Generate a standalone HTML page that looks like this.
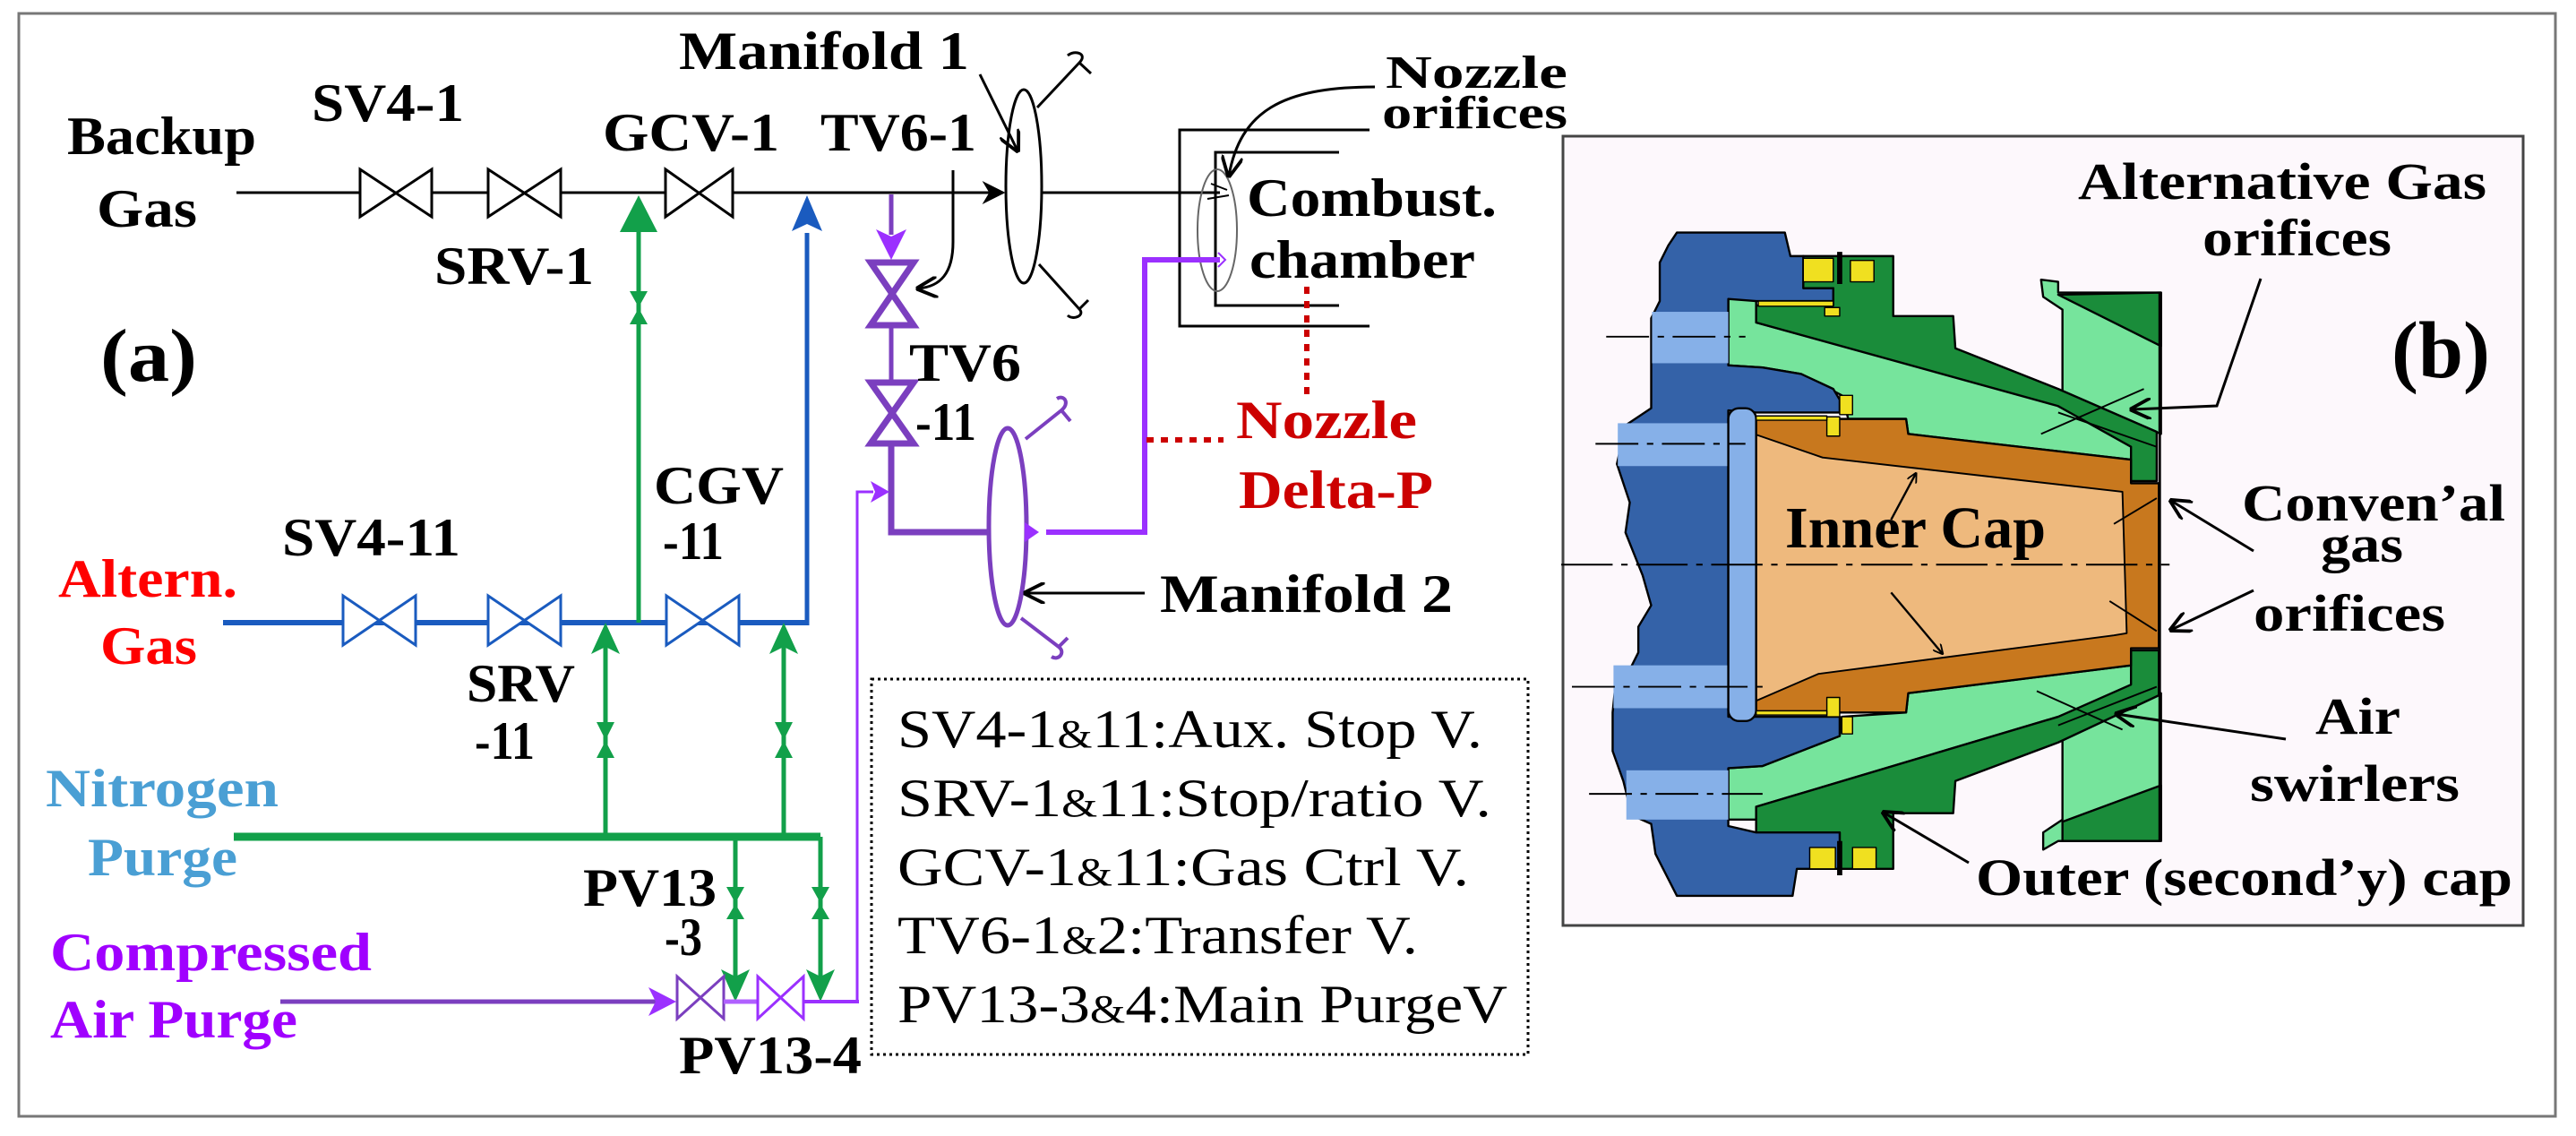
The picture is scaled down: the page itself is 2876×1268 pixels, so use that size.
<!DOCTYPE html>
<html><head><meta charset="utf-8"><style>
html,body{margin:0;padding:0;background:#fff}
svg{display:block}
svg text{font-family:"Liberation Serif","DejaVu Serif",serif;font-weight:bold}
</style></head><body>
<svg width="2876" height="1268" viewBox="0 0 2876 1268" xmlns="http://www.w3.org/2000/svg" font-family="Liberation Serif, DejaVu Serif, serif">
<defs>
<marker id="ak" viewBox="0 0 10 10" refX="9" refY="5" markerWidth="26" markerHeight="26" markerUnits="userSpaceOnUse" orient="auto"><path d="M0,0 L10,5 L0,10 L3,5 Z" fill="#000"/></marker>
<marker id="ak2" viewBox="0 0 10 10" refX="9" refY="5" markerWidth="24" markerHeight="24" markerUnits="userSpaceOnUse" orient="auto"><path d="M0,0 L10,5 L0,10" fill="none" stroke="#000" stroke-width="1.6"/></marker>
</defs>
<rect x="21" y="15" width="2832" height="1231" fill="#fff" stroke="#777" stroke-width="3"/>

<g stroke="#000" stroke-width="3" fill="#fff">
<line x1="264" y1="215" x2="1120" y2="215" marker-end="url(#ak)"/>
<line x1="1163" y1="215" x2="1362" y2="215"/>
<path d="M402,189 L482,242 L482,189 L402,242 Z"/>
<path d="M545,189 L626,242 L626,189 L545,242 Z"/>
<path d="M743,189 L818,242 L818,189 L743,242 Z"/>
<ellipse cx="1143" cy="208" rx="20" ry="108"/>
<path d="M1158,120 L1205,70 C1215,60 1200,55 1192,62 M1205,70 L1218,82" fill="none"/>
<path d="M1160,295 L1205,345 C1212,352 1198,358 1192,352 M1205,345 L1215,335" fill="none"/>
<line x1="1094" y1="83" x2="1136" y2="168" marker-end="url(#ak2)"/>
<path d="M1064,190 L1064,270 C1064,305 1050,320 1025,322" fill="none" marker-end="url(#ak2)"/>
<path d="M1529,145 L1317,145 L1317,364 L1529,364 M1495,170 L1357,170 L1357,341 L1495,341" fill="none"/>
<ellipse cx="1359" cy="257" rx="22" ry="68" stroke="#666" stroke-width="2" fill="none"/>
<path d="M1535,97 C1430,97 1385,125 1372,196" fill="none" marker-end="url(#ak2)"/>
<path d="M1352,205 L1370,212 M1348,222 L1372,218" fill="none" stroke-width="2"/>
</g>

<g stroke="#1a5bbf" fill="#fff">
<line x1="249" y1="695" x2="903" y2="695" stroke-width="6"/>
<line x1="901" y1="698" x2="901" y2="260" stroke-width="5"/>
<path d="M901,218 L884,258 L901,250 L918,258 Z" fill="#1a5bbf" stroke="none"/>
<path d="M383,665 L464,720 L464,665 L383,720 Z" stroke-width="3"/>
<path d="M545,665 L626,720 L626,665 L545,720 Z" stroke-width="3"/>
<path d="M744,665 L825,720 L825,665 L744,720 Z" stroke-width="3"/>
</g>

<g stroke="#12a04a" fill="#12a04a">
<line x1="713" y1="695" x2="713" y2="250" stroke-width="5"/>
<path d="M713,218 L692,259 L734,259 Z" stroke="none"/>
<path d="M703,325 L723,325 L713,343 Z M703,362 L723,362 L713,344 Z" stroke="none"/>
<line x1="261" y1="934" x2="916" y2="934" stroke-width="9"/>
<line x1="676" y1="934" x2="676" y2="720" stroke-width="5"/>
<line x1="875" y1="934" x2="875" y2="720" stroke-width="5"/>
<path d="M676,695 L660,730 L676,722 L692,730 Z M875,695 L859,730 L875,722 L891,730 Z" stroke="none"/>
<path d="M666,806 L686,806 L676,826 Z M666,846 L686,846 L676,827 Z M865,806 L885,806 L875,826 Z M865,846 L885,846 L875,827 Z" stroke="none"/>
<line x1="821" y1="934" x2="821" y2="1095" stroke-width="5"/>
<line x1="916" y1="934" x2="916" y2="1095" stroke-width="5"/>
<path d="M821,1118 L805,1082 L821,1090 L837,1082 Z M916,1118 L900,1082 L916,1090 L932,1082 Z" stroke="none"/>
<path d="M811,990 L831,990 L821,1008 Z M811,1026 L831,1026 L821,1009 Z M906,990 L926,990 L916,1008 Z M906,1026 L926,1026 L916,1009 Z" stroke="none"/>
</g>

<g fill="none">
<line x1="995" y1="217" x2="995" y2="262" stroke="#7b3fbf" stroke-width="5"/>
<path d="M995,290 L978,256 L995,264 L1012,256 Z" fill="#9b30ff"/>
<path d="M972,293 L1020,293 L972,363 L1020,363 Z" stroke="#7b3fbf" stroke-width="7" fill="#fff"/>
<line x1="995" y1="363" x2="995" y2="427" stroke="#7b3fbf" stroke-width="5"/>
<path d="M972,427 L1020,427 L972,495 L1020,495 Z" stroke="#7b3fbf" stroke-width="7" fill="#fff"/>
<path d="M995,495 L995,594 L1104,594" stroke="#7b3fbf" stroke-width="7"/>
<ellipse cx="1125" cy="588" rx="21" ry="110" stroke="#7b3fbf" stroke-width="5" fill="#fff"/>
<path d="M1160,594 L1144,583 L1144,605 Z" fill="#9b30ff"/>
<path d="M1168,594 L1278,594 L1278,290 L1362,290" stroke="#9b30ff" stroke-width="6"/>
<path d="M1360,282 L1368,290 L1360,298" stroke="#9b30ff" stroke-width="2"/>
<path d="M1145,490 L1185,458 C1195,450 1188,440 1180,445 M1185,458 L1195,470" stroke="#7b3fbf" stroke-width="4"/>
<path d="M1140,690 L1182,722 C1190,728 1182,738 1174,733 M1182,722 L1192,712" stroke="#7b3fbf" stroke-width="4"/>
<line x1="1278" y1="662" x2="1145" y2="662" stroke="#000" stroke-width="3" marker-end="url(#ak2)"/>
<path d="M957,1118 L957,549 L975,549" stroke="#9b30ff" stroke-width="3"/>
<path d="M993,549 L972,537 L977,549 L972,561 Z" fill="#9b30ff"/>
<line x1="313" y1="1118" x2="735" y2="1118" stroke="#7b3fbf" stroke-width="5"/>
<path d="M755,1118 L724,1102 L732,1118 L724,1134 Z" fill="#9b30ff"/>
<path d="M756,1090 L808,1137 L808,1090 L756,1137 Z" stroke="#7b3fbf" stroke-width="3" fill="#fff"/>
<line x1="808" y1="1118" x2="846" y2="1118" stroke="#b060ff" stroke-width="5"/>
<path d="M846,1090 L897,1137 L897,1090 L846,1137 Z" stroke="#9b30ff" stroke-width="3" fill="#fff"/>
<line x1="897" y1="1118" x2="959" y2="1118" stroke="#9b30ff" stroke-width="4"/>
</g>
<line x1="1459" y1="320" x2="1459" y2="440" stroke="#cc0000" stroke-width="6" stroke-dasharray="8,8"/>
<line x1="1280" y1="491" x2="1366" y2="491" stroke="#cc0000" stroke-width="6" stroke-dasharray="8,8"/>
<rect x="973" y="758" width="733" height="419" fill="none" stroke="#000" stroke-width="3" stroke-dasharray="3,4"/>

<g font-size="60" fill="#000" font-family="Liberation Serif, serif" font-weight="bold">
<text x="75" y="172" textLength="211" lengthAdjust="spacingAndGlyphs">Backup</text>
<text x="108" y="253" textLength="112" lengthAdjust="spacingAndGlyphs">Gas</text>
<text x="348" y="135" textLength="170" lengthAdjust="spacingAndGlyphs">SV4-1</text>
<text x="485" y="317" textLength="178" lengthAdjust="spacingAndGlyphs">SRV-1</text>
<text x="673" y="168" textLength="197" lengthAdjust="spacingAndGlyphs">GCV-1</text>
<text x="916" y="168" textLength="174" lengthAdjust="spacingAndGlyphs">TV6-1</text>
<text x="758" y="77" textLength="324" lengthAdjust="spacingAndGlyphs">Manifold 1</text>
<text x="112" y="425" font-size="84" textLength="108" lengthAdjust="spacingAndGlyphs">(a)</text>
<text x="1015" y="425" textLength="125" lengthAdjust="spacingAndGlyphs">TV6</text>
<text x="1022" y="491" textLength="68" lengthAdjust="spacingAndGlyphs">-11</text>
<text x="730" y="562" textLength="145" lengthAdjust="spacingAndGlyphs">CGV</text>
<text x="740" y="624" textLength="68" lengthAdjust="spacingAndGlyphs">-11</text>
<text x="315" y="620" textLength="199" lengthAdjust="spacingAndGlyphs">SV4-11</text>
<text x="521" y="783" textLength="121" lengthAdjust="spacingAndGlyphs">SRV</text>
<text x="530" y="847" textLength="67" lengthAdjust="spacingAndGlyphs">-11</text>
<text x="651" y="1011" textLength="149" lengthAdjust="spacingAndGlyphs">PV13</text>
<text x="742" y="1066" textLength="42" lengthAdjust="spacingAndGlyphs">-3</text>
<text x="758" y="1198" textLength="204" lengthAdjust="spacingAndGlyphs">PV13-4</text>
<text x="1547" y="98" font-size="52" textLength="203" lengthAdjust="spacingAndGlyphs">Nozzle</text>
<text x="1543" y="143" font-size="52" textLength="207" lengthAdjust="spacingAndGlyphs">orifices</text>
<text x="1392" y="241" textLength="279" lengthAdjust="spacingAndGlyphs">Combust.</text>
<text x="1395" y="310" textLength="252" lengthAdjust="spacingAndGlyphs">chamber</text>
<text x="1295" y="683" textLength="327" lengthAdjust="spacingAndGlyphs">Manifold 2</text>
<text x="65" y="666" fill="#ff0000" textLength="200" lengthAdjust="spacingAndGlyphs">Altern.</text>
<text x="112" y="741" fill="#ff0000" textLength="108" lengthAdjust="spacingAndGlyphs">Gas</text>
<text x="1380" y="489" fill="#cc0000" textLength="202" lengthAdjust="spacingAndGlyphs">Nozzle</text>
<text x="1383" y="567" fill="#cc0000" textLength="217" lengthAdjust="spacingAndGlyphs">Delta-P</text>
<text x="51" y="900" fill="#4a9fd4" textLength="260" lengthAdjust="spacingAndGlyphs">Nitrogen</text>
<text x="98" y="977" fill="#4a9fd4" textLength="167" lengthAdjust="spacingAndGlyphs">Purge</text>
<text x="56" y="1083" fill="#a000ff" textLength="359" lengthAdjust="spacingAndGlyphs">Compressed</text>
<text x="56" y="1158" fill="#a000ff" textLength="276" lengthAdjust="spacingAndGlyphs">Air Purge</text>
</g>
<g font-size="60" fill="#000" font-family="Liberation Serif, serif" font-weight="normal">
<text x="1002" y="834" textLength="653" lengthAdjust="spacingAndGlyphs" style="font-weight:normal">SV4-1<tspan font-size="44">&amp;</tspan>11:Aux. Stop V.</text>
<text x="1002" y="911" textLength="663" lengthAdjust="spacingAndGlyphs" style="font-weight:normal">SRV-1<tspan font-size="44">&amp;</tspan>11:Stop/ratio V.</text>
<text x="1002" y="988" textLength="638" lengthAdjust="spacingAndGlyphs" style="font-weight:normal">GCV-1<tspan font-size="44">&amp;</tspan>11:Gas Ctrl V.</text>
<text x="1002" y="1064" textLength="581" lengthAdjust="spacingAndGlyphs" style="font-weight:normal">TV6-1<tspan font-size="44">&amp;</tspan>2:Transfer V.</text>
<text x="1002" y="1141" textLength="681" lengthAdjust="spacingAndGlyphs" style="font-weight:normal">PV13-3<tspan font-size="44">&amp;</tspan>4:Main PurgeV</text>
</g>

<rect x="1745" y="152" width="1072" height="881" fill="#fdf8fc" stroke="#444" stroke-width="3"/>
<g transform="translate(1700,250) scale(0.4783)" stroke="#000" stroke-width="5" stroke-linejoin="round">
<path d="M480,175 L545,175 L545,230 L1240,420 L1420,510 L1420,550 L900,490 L895,455 L760,455 L745,400 L650,350 L560,335 L480,330 Z" fill="#76e49c"/>
<path d="M1210,130 L1250,135 L1250,160 L1490,160 L1490,490 L1260,390 L1260,200 L1215,170 Z" fill="#76e49c"/>
<path d="M1250,165 L1490,160 L1490,285 Z" fill="#1a8c3a"/>
<path d="M545,230 L545,190 L725,190 L725,150 L655,150 L655,75 L865,75 L865,215 L1005,215 L1010,290 L1250,385 L1480,485 L1480,600 L1420,600 L1420,520 L1250,425 Z" fill="#1a8c3a"/>
<path d="M480,1270 L560,1265 L650,1230 L740,1195 L745,1150 L895,1140 L900,1095 L1420,1030 L1420,1080 L1250,1150 L545,1360 L545,1390 L480,1390 Z" fill="#76e49c"/>
<path d="M1260,1195 L1490,1095 L1490,1440 L1250,1440 L1215,1460 L1215,1420 L1260,1390 Z" fill="#76e49c"/>
<path d="M1260,1395 L1490,1310 L1490,1440 L1260,1440 Z" fill="#1a8c3a"/>
<path d="M545,1360 L1250,1150 L1420,1075 L1420,995 L1485,995 L1485,1100 L1250,1210 L1010,1300 L1005,1375 L865,1375 L865,1505 L740,1505 L740,1420 L545,1420 Z" fill="#1a8c3a"/>
<path d="M540,455 L895,455 L900,490 L1420,550 L1420,605 L1485,605 L1485,990 L1420,990 L1420,1030 L900,1095 L895,1140 L540,1140 Z" fill="#c8781e"/>
<path d="M540,490 L700,545 L1400,625 L1410,955 L1380,960 L690,1050 L540,1115 Z" fill="#eeb97d" stroke-width="4"/>
<path d="M360,20 L612,20 L625,75 L655,75 L655,150 L725,150 L725,180 L545,180 L480,175 L480,330 L560,335 L650,350 L725,385 L740,410 L740,440 L545,440 L480,435 L480,1150 L740,1150 L740,1195 L650,1230 L560,1265 L480,1270 L480,1405 L545,1420 L740,1420 L740,1505 L640,1505 L630,1568 L360,1568 L310,1470 L300,1400 L255,1380 L235,1300 L210,1230 L210,1140 L215,1090 L245,1050 L270,1000 L270,940 L300,890 L280,820 L260,770 L240,720 L250,650 L220,560 L240,470 L300,430 L300,330 L300,220 L320,180 L320,90 L340,50 Z" fill="#3462a8"/>
<g fill="#86b0e8" stroke="none">
<rect x="302" y="205" width="178" height="120"/>
<rect x="222" y="465" width="258" height="100"/>
<rect x="212" y="1030" width="268" height="100"/>
<rect x="242" y="1275" width="238" height="115"/>
</g>
<rect x="480" y="430" width="65" height="730" rx="25" fill="#86b0e8"/>
<g fill="#f0e020" stroke-width="3">
<rect x="655" y="80" width="70" height="55"/><rect x="765" y="85" width="55" height="50"/>
<rect x="550" y="180" width="175" height="12"/><rect x="705" y="195" width="35" height="20"/>
<rect x="740" y="400" width="30" height="45"/><rect x="710" y="450" width="30" height="45"/>
<rect x="545" y="448" width="165" height="10"/>
<rect x="710" y="1105" width="30" height="45"/><rect x="745" y="1150" width="25" height="40"/>
<rect x="545" y="1136" width="165" height="10"/>
<rect x="670" y="1455" width="60" height="50"/><rect x="770" y="1455" width="55" height="50"/>
</g>
<path d="M740,65 L740,140 M740,1440 L740,1520" stroke-width="12"/>
<line x1="1487" y1="160" x2="1487" y2="1440" stroke-width="6"/>
<g stroke-width="4" fill="none">
<path d="M90,795 L1510,795" stroke-dasharray="120,20,15,20"/>
<path d="M195,263 L520,263 M170,513 L520,513 M115,1080 L560,1080 M155,1330 L560,1330" stroke-dasharray="100,20,15,20"/>
<path d="M1210,490 L1450,385 M1250,440 L1480,520 M1200,1090 L1400,1180 M1250,1170 L1480,1080 M1380,700 L1480,640 M1370,880 L1480,950"/>
</g>
<line x1="860" y1="690" x2="918" y2="582" stroke-width="5" marker-end="url(#ak2)"/>
<line x1="860" y1="860" x2="980" y2="1003" stroke-width="5" marker-end="url(#ak2)"/>
</g>
<g stroke="#000" stroke-width="3" fill="none">
<path d="M2524,311 L2475,453 L2380,457" marker-end="url(#ak2)"/>
<line x1="2516" y1="615" x2="2424" y2="559" marker-end="url(#ak2)"/>
<line x1="2516" y1="659" x2="2424" y2="703" marker-end="url(#ak2)"/>
<line x1="2552" y1="825" x2="2363" y2="797" marker-end="url(#ak2)"/>
<line x1="2198" y1="963" x2="2103" y2="907" marker-end="url(#ak2)"/>
</g>
<g font-size="58" fill="#000" font-family="Liberation Serif, serif" font-weight="bold">
<text x="2320" y="222" textLength="456" lengthAdjust="spacingAndGlyphs">Alternative Gas</text>
<text x="2459" y="285" textLength="211" lengthAdjust="spacingAndGlyphs">orifices</text>
<text x="2670" y="421" font-size="90" textLength="110" lengthAdjust="spacingAndGlyphs">(b)</text>
<text x="2503" y="581" textLength="294" lengthAdjust="spacingAndGlyphs">Conven’al</text>
<text x="2591" y="627" textLength="92" lengthAdjust="spacingAndGlyphs">gas</text>
<text x="2516" y="704" textLength="214" lengthAdjust="spacingAndGlyphs">orifices</text>
<text x="1993" y="611" font-size="66" textLength="291" lengthAdjust="spacingAndGlyphs">Inner Cap</text>
<text x="2585" y="819" textLength="95" lengthAdjust="spacingAndGlyphs">Air</text>
<text x="2512" y="894" textLength="234" lengthAdjust="spacingAndGlyphs">swirlers</text>
<text x="2206" y="999" textLength="599" lengthAdjust="spacingAndGlyphs">Outer (second’y) cap</text>
</g>
</svg>
</body></html>
